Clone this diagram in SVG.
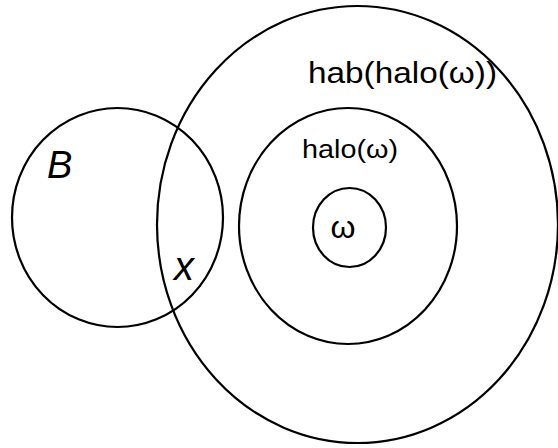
<svg xmlns="http://www.w3.org/2000/svg" width="558" height="448" viewBox="0 0 558 448">
  <style>
    .ring { fill: none; stroke: #000; stroke-width: 2.2; }
    .lbl { font-family: "Liberation Sans", "DejaVu Sans", sans-serif; fill: #000; }
  </style>
  <rect width="558" height="448" fill="#fff"/>
  <g id="B">
    <ellipse class="ring" cx="117.5" cy="217.5" rx="105.5" ry="109.5"/>
    <text class="lbl" x="47" y="178" font-size="38" font-style="italic">B</text>
  </g>
  <g id="hab-halo-w">
    <ellipse class="ring" cx="357.5" cy="224.5" rx="200.5" ry="218.5"/>
    <text class="lbl" x="308" y="83" font-size="30" textLength="189" lengthAdjust="spacingAndGlyphs">hab(halo(ω))</text>
  </g>
  <g id="halo-w">
    <ellipse class="ring" cx="348" cy="226" rx="109" ry="118"/>
    <text class="lbl" x="302" y="158" font-size="25" textLength="96" lengthAdjust="spacingAndGlyphs">halo(ω)</text>
  </g>
  <g id="w">
    <ellipse class="ring" cx="349.5" cy="227.5" rx="36.5" ry="39.5"/>
    <text class="lbl" x="343" y="238" font-size="32" text-anchor="middle">ω</text>
  </g>
  <g id="x">
    <text class="lbl" x="184" y="280" font-size="40" font-style="italic" text-anchor="middle">x</text>
  </g>
</svg>
